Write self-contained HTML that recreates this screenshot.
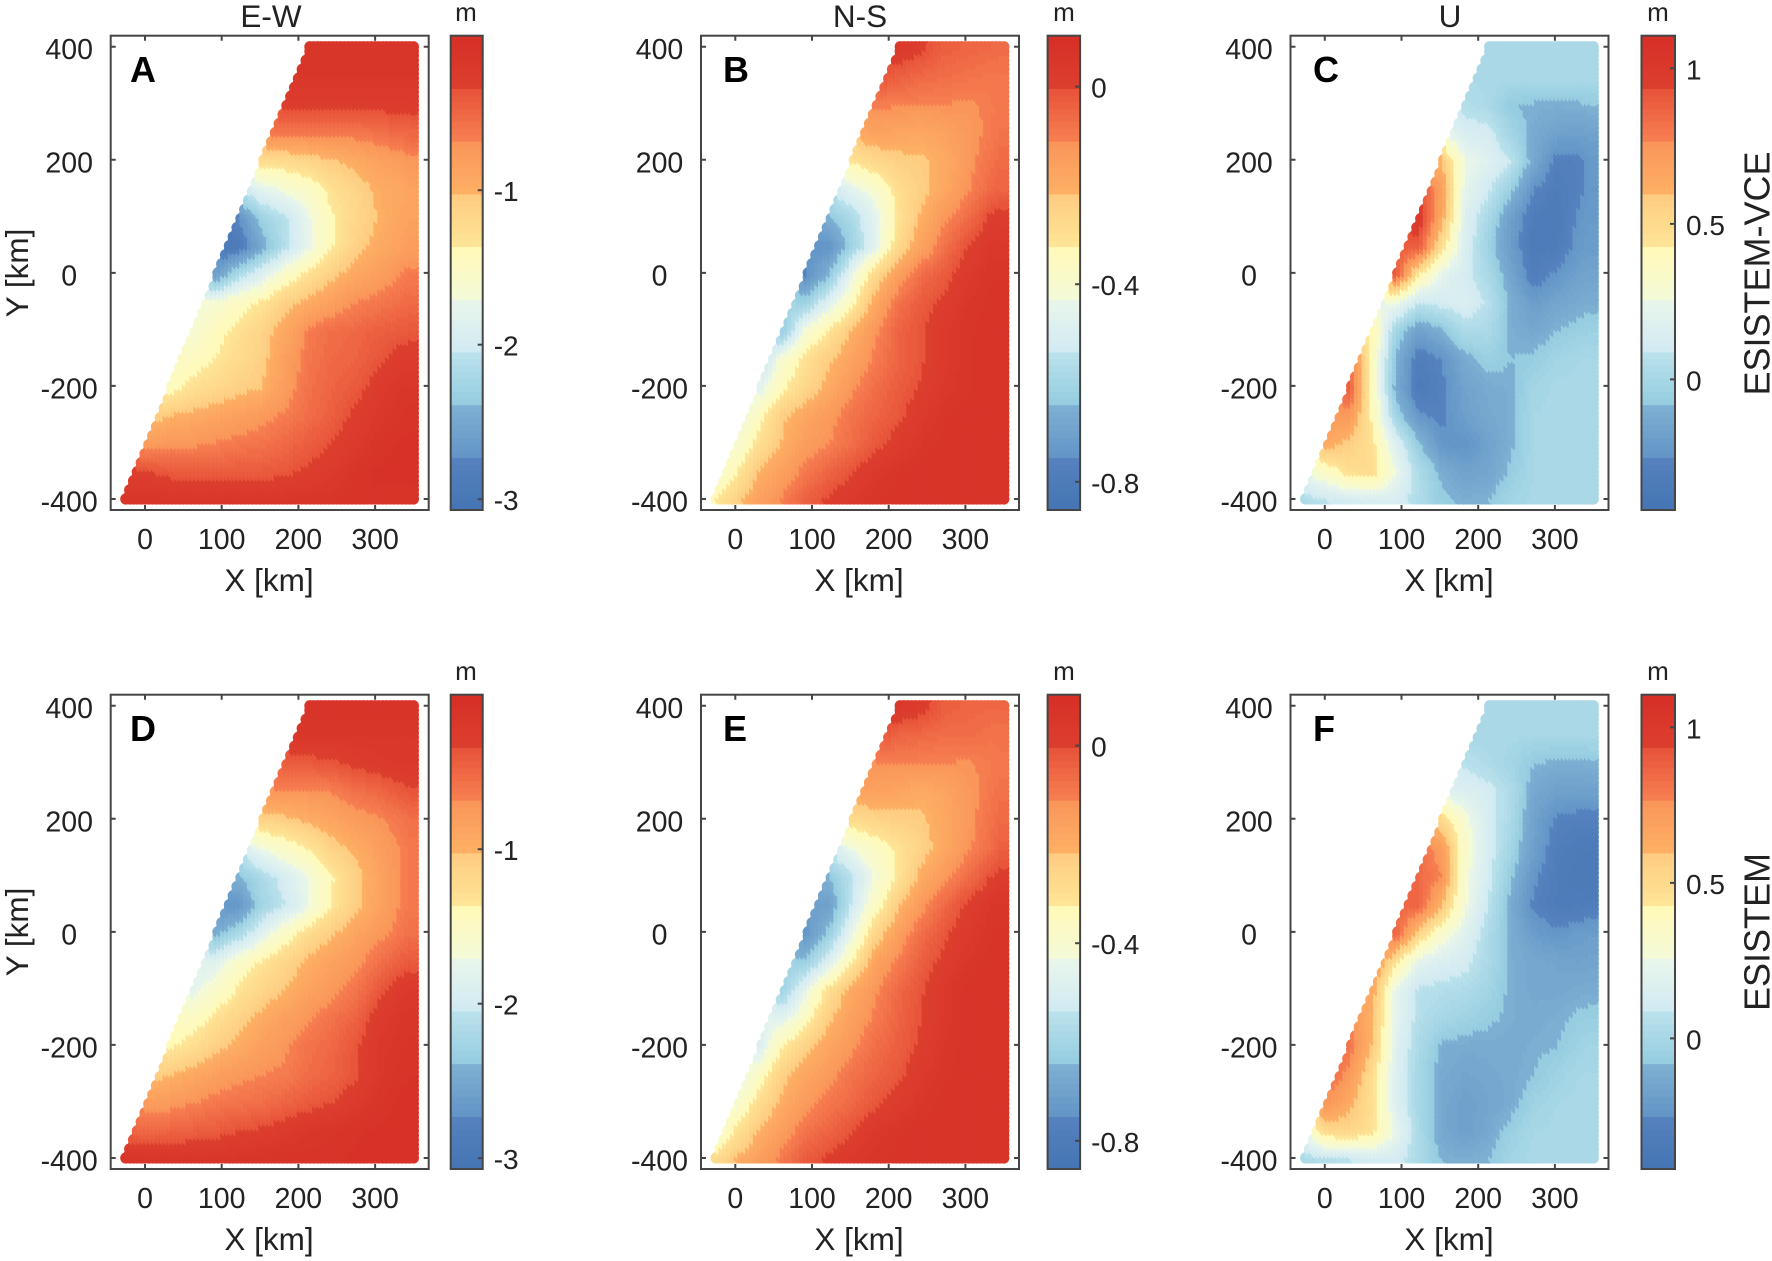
<!DOCTYPE html>
<html lang="en">
<head>
<meta charset="utf-8">
<title>Surface displacement maps: ESISTEM-VCE and ESISTEM</title>
<style>
html,body{margin:0;padding:0;background:#fff;}
svg{display:block;}
text{font-family:"Liberation Sans",Arial,sans-serif;fill:#222;}
.tick{font-size:28.5px;text-anchor:middle;}
.cb{font-size:28px;}
.lab{font-size:31.5px;text-anchor:middle;}
.unit{font-size:26px;text-anchor:middle;}
.letter{font-size:36px;font-weight:bold;fill:#000;}
.row{font-size:36px;text-anchor:middle;}
</style>
</head>
<body>
<svg id="figure" xmlns="http://www.w3.org/2000/svg" width="1772" height="1261" viewBox="0 0 1772 1261">
<rect x="0" y="0" width="1772" height="1261" fill="#fff"/>
<g id="plots"></g>
<g>
<text class="lab" x="271" y="27">E-W</text>
<text class="lab" x="860" y="27">N-S</text>
<text class="lab" x="1450" y="27">U</text>
<text class="unit" x="466" y="21">m</text>
<text class="unit" x="1064" y="21">m</text>
<text class="unit" x="1658" y="21">m</text>
<text class="unit" x="466" y="680">m</text>
<text class="unit" x="1064" y="680">m</text>
<text class="unit" x="1658" y="680">m</text>
<text class="letter" x="130" y="82">A</text>
<text class="letter" x="723" y="82">B</text>
<text class="letter" x="1313" y="82">C</text>
<text class="letter" x="130" y="741">D</text>
<text class="letter" x="723" y="741">E</text>
<text class="letter" x="1313" y="741">F</text>
<text class="lab" x="269" y="591">X [km]</text>
<text class="lab" x="859" y="591">X [km]</text>
<text class="lab" x="1449" y="591">X [km]</text>
<text class="lab" x="269" y="1250">X [km]</text>
<text class="lab" x="859" y="1250">X [km]</text>
<text class="lab" x="1449" y="1250">X [km]</text>
<text class="lab" transform="translate(28,273) rotate(-90)">Y [km]</text>
<text class="lab" transform="translate(28,932) rotate(-90)">Y [km]</text>
<text class="row" transform="translate(1769.5,273.5) rotate(-90)">ESISTEM-VCE</text>
<text class="row" transform="translate(1769.5,932) rotate(-90)">ESISTEM</text>
</g>
</svg>
<script>
// Axis nodes of the sampled displacement fields (km)
const xNodes = [-30,0,30,60,90,120,150,180,210,240,270,300,330,360];
const yNodes = [400,350,300,250,200,150,100,50,0,-50,-100,-150,-200,-250,-300,-350,-400];
const xTicks = [0,100,200,300];
const yTicks = [400,200,0,-200,-400];

// Colour-scale ranges in metres [min,max] and colourbar tick labels
const ewRange = [-3.07,0];
const nsRange = [-0.857,0.103];
const uRange = [-0.42,1.105];
const ewTicks = [-1,-2,-3];
const nsTicks = [0,-0.4,-0.8];
const uTicks = [1,0.5,0];

// Values are colour-scale levels: 0 = scale minimum, 9 = scale maximum.
// One row per yNodes entry, one column per xNodes entry.
const ewVceLevels = [
[8.6,8.6,8.6,8.6,8.6,8.6,8.6,8.6,8.6,8.6,8.6,8.6,8.6,8.6],
[8.5,8.5,8.5,8.5,8.5,8.5,8.5,8.5,8.5,8.5,8.5,8.5,8.5,8.5],
[8.2,8.2,8.2,8.2,8.2,8.2,8.2,8.2,8.2,8.2,8.2,8.2,8.2,8.2],
[7.2,7.2,7.2,7.2,7.2,7.2,7.2,7.2,7.2,7.2,7.2,7.3,7.5,7.6],
[5.3,5.3,5.3,5.3,5.3,5.3,5.3,5.4,5.6,5.9,6.2,6.5,6.7,7.0],
[3.0,3.0,3.0,3.0,3.0,3.0,3.7,4.1,4.5,5.2,5.6,6.1,6.3,6.6],
[1.0,1.0,1.0,1.0,1.0,1.0,2.3,2.9,3.9,4.9,5.5,6.0,6.4,6.6],
[0.4,0.4,0.4,0.4,0.4,0.5,1.7,2.8,3.8,4.9,5.7,6.2,6.5,7.0],
[1.2,1.2,1.2,1.2,1.4,2.7,3.5,4.5,5.2,5.8,6.3,6.6,7.0,7.3],
[4.0,4.0,4.0,4.0,4.2,4.7,5.1,5.8,6.2,6.6,7.0,7.2,7.4,7.6],
[4.2,4.2,4.2,4.2,4.8,5.2,5.7,6.3,7.1,7.4,7.5,7.7,7.8,7.9],
[4.6,4.6,4.6,4.7,5.0,5.4,5.8,6.6,7.2,7.5,7.6,7.9,8.2,8.3],
[4.7,4.7,4.7,5.2,5.5,5.8,6.0,6.7,7.3,7.6,7.8,8.2,8.5,8.6],
[5.7,5.7,6.0,6.2,6.4,6.6,6.8,7.1,7.4,7.7,8.1,8.4,8.6,8.8],
[6.7,6.7,6.9,6.9,7.05,7.2,7.3,7.5,7.75,8.0,8.3,8.6,8.8,8.8],
[8.1,8.05,7.85,7.8,7.8,7.8,7.8,7.9,8.1,8.3,8.6,8.8,8.8,8.8],
[8.6,8.6,8.6,8.6,8.6,8.6,8.6,8.6,8.6,8.6,8.7,8.7,8.7,8.7]];
const nsVceLevels = [
[8.4,8.4,8.4,8.4,8.4,8.4,8.4,8.4,8.4,8.1,7.7,7.6,7.5,7.4],
[8.0,8.0,8.0,8.0,8.0,8.0,8.0,8.0,7.7,7.5,7.4,7.3,7.2,7.2],
[7.05,7.05,7.05,7.05,7.05,7.05,7.05,7.05,7.05,6.98,7.0,6.9,7.1,7.3],
[6.2,6.2,6.2,6.2,6.2,6.2,6.2,6.5,6.4,6.3,6.5,6.8,7.1,7.5],
[5.1,5.1,5.1,5.1,5.1,5.1,5.1,5.5,5.8,5.9,6.2,6.8,7.3,7.7],
[3.0,3.0,3.0,3.0,3.0,3.0,3.7,4.3,5.3,5.8,6.3,6.95,7.5,7.8],
[2.0,2.0,2.0,2.0,2.0,2.0,2.6,3.7,5.1,6.1,6.9,7.4,8.1,8.3],
[1.0,1.0,1.0,1.0,1.0,1.0,2.3,3.7,5.5,6.5,7.3,8.0,8.4,8.5],
[0.9,0.9,0.9,0.9,0.9,2.0,3.9,5.5,6.6,7.4,7.8,8.3,8.6,8.6],
[2.3,2.3,2.3,2.3,2.3,3.6,4.8,6.3,7.3,7.8,8.1,8.5,8.7,8.7],
[2.1,2.1,2.1,2.1,4.3,5.1,6.1,6.9,7.6,7.95,8.3,8.6,8.7,8.7],
[2.7,2.7,2.7,4.4,5.2,5.9,6.5,7.1,7.6,7.95,8.3,8.6,8.7,8.7],
[3.7,3.7,3.7,4.9,5.6,6.2,6.9,7.4,7.75,8.05,8.4,8.6,8.7,8.7],
[3.7,3.7,4.8,5.9,6.4,6.8,7.3,7.6,7.9,8.3,8.6,8.7,8.7,8.7],
[4.3,4.3,5.3,6.1,6.7,7.0,7.4,7.85,8.2,8.5,8.7,8.7,8.7,8.7],
[4.0,5.0,6.1,6.6,7.2,7.6,8.0,8.4,8.6,8.7,8.7,8.7,8.7,8.7],
[5.0,5.8,6.6,7.1,7.7,8.1,8.4,8.6,8.7,8.7,8.7,8.7,8.7,8.7]];
const uVceLevels = [
[2.5,2.5,2.5,2.5,2.5,2.5,2.5,2.5,2.5,2.5,2.5,2.5,2.5,2.5],
[2.6,2.6,2.6,2.6,2.6,2.6,2.6,2.6,2.6,2.6,2.6,2.6,2.6,2.6],
[2.8,2.8,2.8,2.8,2.8,2.8,2.8,2.8,2.6,2.0,1.95,1.9,1.95,2.1],
[4.0,4.0,4.0,4.0,4.0,4.0,4.0,3.3,3.2,2.4,1.8,1.5,1.4,1.6],
[6.0,6.0,6.0,6.0,6.0,6.0,6.0,4.0,3.6,3.0,1.7,0.8,0.9,1.5],
[8.0,8.0,8.0,8.0,8.0,8.0,6.6,3.8,3.1,2.2,1.0,0.6,0.9,1.4],
[8.4,8.4,8.4,8.4,8.4,8.4,6.3,3.5,2.6,1.4,0.6,0.5,1.1,1.4],
[7.8,7.8,7.8,7.8,7.8,7.8,5.3,3.4,2.3,1.3,0.5,0.6,1.2,1.5],
[7.8,7.8,7.8,7.8,7.8,5.0,3.8,3.2,2.6,1.6,0.7,1.1,1.5,1.6],
[4.0,4.0,4.0,4.0,4.0,3.0,3.2,3.4,2.9,1.9,1.3,1.6,1.8,2.0],
[5.0,5.0,5.0,5.0,2.4,1.4,1.9,2.7,2.6,1.9,1.7,2.0,2.2,2.3],
[7.5,7.5,7.5,4.6,1.9,0.7,1.0,1.8,2.2,2.0,2.1,2.4,2.5,2.55],
[7.7,7.7,7.7,4.6,1.8,0.5,0.9,1.5,1.8,1.9,2.4,2.55,2.55,2.55],
[6.8,6.8,6.8,4.8,2.4,1.1,0.9,1.4,1.7,1.9,2.5,2.55,2.55,2.55],
[6.3,6.3,5.8,5.2,3.5,2.1,1.1,1.0,1.5,1.9,2.5,2.55,2.55,2.55],
[4.0,4.5,5.3,5.4,4.0,2.7,1.9,1.5,1.6,2.1,2.5,2.55,2.55,2.55],
[2.7,3.0,3.2,3.3,3.3,2.7,2.1,1.9,2.0,2.4,2.55,2.55,2.55,2.55]];
const ewLevels = [
[8.7,8.7,8.7,8.7,8.7,8.7,8.7,8.7,8.7,8.7,8.7,8.7,8.7,8.7],
[8.5,8.5,8.5,8.5,8.5,8.5,8.5,8.5,8.5,8.5,8.5,8.5,8.5,8.5],
[7.8,7.8,7.8,7.8,7.8,7.8,7.8,7.8,7.8,7.9,8.1,8.3,8.4,8.4],
[6.9,6.9,6.9,6.9,6.9,6.9,6.9,6.9,6.9,7.0,7.3,7.5,7.8,8.05],
[5.7,5.7,5.7,5.7,5.7,5.7,5.7,5.8,6.1,6.4,6.7,6.9,7.2,7.5],
[3.2,3.2,3.2,3.2,3.2,3.2,4.0,4.5,5.0,5.7,6.1,6.6,7.0,7.4],
[2.0,2.0,2.0,2.0,2.0,2.0,2.6,3.3,4.0,4.9,5.7,6.4,7.0,7.4],
[1.1,1.1,1.1,1.1,1.1,1.1,2.4,3.0,3.9,5.0,5.8,6.4,7.0,7.4],
[1.8,1.8,1.8,1.8,1.8,2.6,3.6,4.6,5.4,5.9,6.4,6.8,7.2,7.6],
[3.6,3.6,3.6,3.6,3.6,4.5,5.1,5.6,6.1,6.5,6.8,7.3,7.7,8.0],
[3.8,3.8,3.8,3.8,4.4,5.1,5.6,6.0,6.5,6.8,7.2,7.8,8.3,8.5],
[4.6,4.6,4.6,4.6,5.2,5.7,6.2,6.6,6.9,7.3,7.6,8.2,8.5,8.7],
[4.9,4.9,4.9,5.3,5.8,6.2,6.6,6.9,7.3,7.5,7.9,8.4,8.6,8.7],
[5.7,5.7,6.0,6.3,6.6,6.85,7.0,7.1,7.4,7.6,7.9,8.4,8.7,8.8],
[6.7,6.7,6.8,7.0,7.2,7.3,7.4,7.6,7.8,8.0,8.3,8.6,8.8,8.8],
[7.6,7.5,7.6,7.7,7.8,8.0,8.1,8.3,8.5,8.6,8.7,8.8,8.8,8.8],
[8.6,8.6,8.6,8.6,8.6,8.6,8.7,8.7,8.7,8.7,8.8,8.8,8.8,8.8]];
const nsLevels = [
[8.4,8.4,8.4,8.4,8.4,8.4,8.4,8.4,8.4,8.2,7.7,7.6,7.5,7.5],
[8.0,8.0,8.0,8.0,8.0,8.0,8.0,8.0,7.6,7.5,7.4,7.4,7.3,7.3],
[6.95,6.95,6.95,6.95,6.95,6.95,6.95,6.95,7.0,7.0,6.98,6.95,7.1,7.3],
[6.5,6.5,6.5,6.5,6.5,6.5,6.5,6.5,6.4,6.2,6.4,6.8,7.2,7.5],
[5.4,5.4,5.4,5.4,5.4,5.4,5.4,5.6,5.8,5.9,6.3,6.8,7.3,7.7],
[3.2,3.2,3.2,3.2,3.2,3.2,4.0,4.6,5.1,5.7,6.3,6.9,7.4,8.1],
[2.0,2.0,2.0,2.0,2.0,2.0,2.9,4.1,5.1,6.2,6.8,7.4,8.0,8.4],
[1.4,1.4,1.4,1.4,1.4,1.4,3.1,4.6,5.9,6.8,7.5,8.1,8.5,8.6],
[1.1,1.1,1.1,1.1,1.1,2.2,3.9,5.6,6.6,7.4,7.9,8.3,8.6,8.7],
[2.2,2.2,2.2,2.2,2.2,3.5,5.0,6.5,7.1,7.7,8.15,8.5,8.7,8.7],
[2.3,2.3,2.3,2.3,3.8,5.3,6.3,6.9,7.5,7.95,8.4,8.7,8.7,8.7],
[3.7,3.7,3.7,3.7,4.7,5.9,6.6,7.1,7.6,8.0,8.4,8.7,8.7,8.7],
[3.4,3.4,3.4,5.0,5.8,6.4,6.9,7.4,7.7,8.1,8.5,8.7,8.7,8.7],
[3.4,3.4,4.7,5.8,6.4,6.8,7.3,7.6,7.9,8.3,8.6,8.7,8.7,8.7],
[4.3,4.3,5.4,6.2,6.8,7.2,7.5,7.9,8.2,8.5,8.7,8.7,8.7,8.7],
[4.0,5.2,6.1,6.7,7.3,7.6,8.0,8.4,8.6,8.7,8.7,8.7,8.7,8.7],
[5.3,6.1,6.7,7.2,7.8,8.1,8.4,8.6,8.7,8.7,8.7,8.7,8.7,8.7]];
const uLevels = [
[2.5,2.5,2.5,2.5,2.5,2.5,2.5,2.5,2.5,2.5,2.5,2.5,2.5,2.55],
[2.55,2.55,2.55,2.55,2.55,2.55,2.55,2.55,2.55,2.55,2.5,2.5,2.5,2.5],
[2.9,2.9,2.9,2.9,2.9,2.9,2.9,2.9,2.7,2.4,2.0,1.9,1.9,2.0],
[3.5,3.5,3.5,3.5,3.5,3.5,3.5,3.5,3.2,2.7,1.7,1.4,1.4,1.4],
[5.6,5.6,5.6,5.6,5.6,5.6,5.6,4.2,3.3,2.6,1.5,0.9,0.8,0.8],
[7.4,7.4,7.4,7.4,7.4,7.4,6.7,4.4,3.3,2.4,1.4,0.7,0.5,0.5],
[7.5,7.5,7.5,7.5,7.5,7.5,7.0,4.2,3.2,2.1,1.1,0.6,0.4,0.4],
[7.6,7.6,7.6,7.6,7.6,7.6,6.0,4.1,3.0,1.8,0.9,0.6,0.6,0.8],
[7.6,7.6,7.6,7.6,7.6,5.6,4.4,3.6,2.7,1.9,1.3,1.1,1.3,1.4],
[7.0,7.0,7.0,7.0,5.2,3.7,3.4,3.2,2.6,1.9,1.7,1.6,1.5,1.6],
[6.3,6.3,6.3,6.3,3.8,2.9,2.8,2.7,2.4,1.9,1.7,1.7,1.8,1.9],
[7.0,7.0,7.0,6.0,3.8,2.8,2.5,2.3,2.1,1.9,1.8,1.9,2.1,2.2],
[7.3,7.3,7.3,5.9,3.6,2.6,1.9,1.8,1.8,1.8,1.9,2.0,2.3,2.5],
[7.6,7.6,6.8,5.3,3.5,2.5,1.8,1.6,1.7,1.8,2.0,2.3,2.5,2.55],
[6.9,6.9,6.2,5.2,3.5,2.5,1.7,1.4,1.6,1.8,2.3,2.5,2.55,2.55],
[4.0,5.5,5.6,5.2,3.9,2.6,1.7,1.4,1.7,2.2,2.5,2.55,2.55,2.55],
[2.7,2.8,3.0,3.2,3.2,2.6,2.0,1.9,2.0,2.4,2.55,2.55,2.55,2.55]];

// Colour map: nine bands, each with a start and end colour (bottom of the colourbar first)
const bandColors = [
[[69,117,180],[85,130,190]],
[[100,150,200],[125,175,210]],
[[150,205,225],[185,225,235]],
[[210,235,243],[232,245,235]],
[[245,250,215],[255,250,185]],
[[254,228,150],[254,205,130]],
[[253,175,100],[250,150,90]],
[[246,125,80],[232,85,58]],
[[220,62,46],[215,48,39]]];

// Layout (separate from the data)
const colLeft = [110.7,701,1290.5];
const rowTop = [35.7,694.7];
const axW = 318, axH = 474.3;
const pxPerKmX = 0.767, pxPerKmY = 0.5654;
const zeroOffsetX = 34.3, zeroOffsetY = 237.15;
const cbLeft = [450.7,1047.6,1641.5];
const cbWidth = [32,32.5,33.5];
const ink = "#454545";
const SVGNS = "http://www.w3.org/2000/svg";
const plots = document.getElementById("plots");
const subSteps = 8;

function node(tag, attrs, parent){
  const el = document.createElementNS(SVGNS, tag);
  for (const k in attrs) el.setAttribute(k, attrs[k]);
  parent.appendChild(el);
  return el;
}
function xAxis(left){ return km => left + zeroOffsetX + km * pxPerKmX; }
function yAxis(top){ return km => top + zeroOffsetY - km * pxPerKmY; }
function colorOfLevel(level){
  const l = Math.max(0, Math.min(8.999, level + 1e-4));
  const band = Math.floor(l);
  const step = Math.floor((l - band) * subSteps) / (subSteps - 1);
  const c = bandColors[band];
  const mix = i => Math.round(c[0][i] + (c[1][i] - c[0][i]) * step);
  return "rgb(" + mix(0) + "," + mix(1) + "," + mix(2) + ")";
}
function sampleField(field, x, y){
  const dx = xNodes[1] - xNodes[0], dy = yNodes[0] - yNodes[1];
  const fx = Math.max(0, Math.min(xNodes.length - 1.001, (x - xNodes[0]) / dx));
  const fy = Math.max(0, Math.min(yNodes.length - 1.001, (yNodes[0] - y) / dy));
  const i = Math.floor(fx), j = Math.floor(fy), u = fx - i, v = fy - j;
  return field[j][i] * (1 - u) * (1 - v) + field[j][i + 1] * u * (1 - v) +
         field[j + 1][i] * (1 - u) * v + field[j + 1][i + 1] * u * v;
}
function edgeTopY(x){ return (x + 25) / 0.3 - 400; }

function drawPanel(col, row, field, range, cbTicks, name){
  const left = colLeft[col], top = rowTop[row];
  const X = xAxis(left), Y = yAxis(top);
  const g = node("g", {}, plots);
  
  

  // Scatter of displacement points, drawn in column order like the source figure
  const pts = node("g", {}, g);
  
  
  const r = 5.6;
  for (let x = -25; x <= 351; x += 5) {
    const yMax = Math.min(400, edgeTopY(x));
    for (let y = -400; y <= yMax; y += 8) {
      const lvl = sampleField(field, x - 7, y);
      const c = document.createElementNS(SVGNS, "circle");
      c.setAttribute("cx", X(x).toFixed(1));
      c.setAttribute("cy", Y(y).toFixed(1));
      c.setAttribute("r", r);
      c.setAttribute("fill", colorOfLevel(lvl));
      
      
      pts.appendChild(c);
    }
  }

  // Axes frame
  const frame = node("rect", {x:left, y:top, width:axW, height:axH, fill:"none", stroke:ink, "stroke-width":2}, g);
  
  

  // Ticks and tick labels
  const tl = 5;
  xTicks.forEach(t => {
    const px = X(t);
    const a = node("path", {d:"M"+px+" "+top+"v"+tl+"M"+px+" "+(top+axH)+"v"+(-tl), stroke:ink, "stroke-width":2, fill:"none"}, g);
    
    
    const lab = node("text", {class:"tick", x:px, y:top+axH+39}, g);
    lab.textContent = String(t);
    
    
  });
  yTicks.forEach(t => {
    const py = Y(t);
    const a = node("path", {d:"M"+left+" "+py+"h"+tl+"M"+(left+axW)+" "+py+"h"+(-tl), stroke:ink, "stroke-width":2, fill:"none"}, g);
    
    
    const lab = node("text", {class:"tick", x:left-41.5, y:py+12.5}, g);
    lab.textContent = String(t);
    
    
  });

  // Colourbar
  const cx = cbLeft[col], cw = cbWidth[col];
  const CY = v => top + (range[1] - v) / (range[1] - range[0]) * axH;
  const steps = 9 * subSteps;
  for (let k = 0; k < steps; k++) {
    const lvlLo = k / subSteps, lvlHi = (k + 1) / subSteps;
    const yHi = CY(range[0] + lvlHi / 9 * (range[1] - range[0]));
    const yLo = CY(range[0] + lvlLo / 9 * (range[1] - range[0]));
    const b = node("rect", {x:cx, y:yHi.toFixed(2), width:cw, height:(yLo - yHi + 0.6).toFixed(2), fill:colorOfLevel(lvlLo + 0.01)}, g);
    
    
  }
  const cbf = node("rect", {x:cx, y:top, width:cw, height:axH, fill:"none", stroke:ink, "stroke-width":2}, g);
  
  
  cbTicks.forEach(t => {
    const py = CY(t);
    const a = node("path", {d:"M"+(cx+cw)+" "+py+"h-5", stroke:ink, "stroke-width":2, fill:"none"}, g);
    
    
    const lab = node("text", {class:"cb", x:cx+cw+11, y:py+11}, g);
    lab.textContent = String(t);
    
    
  });
}

drawPanel(0, 0, ewVceLevels, ewRange, ewTicks, "a");
drawPanel(1, 0, nsVceLevels, nsRange, nsTicks, "b");
drawPanel(2, 0, uVceLevels, uRange, uTicks, "c");
drawPanel(0, 1, ewLevels, ewRange, ewTicks, "d");
drawPanel(1, 1, nsLevels, nsRange, nsTicks, "e");
drawPanel(2, 1, uLevels, uRange, uTicks, "f");
</script>
</body>
</html>
